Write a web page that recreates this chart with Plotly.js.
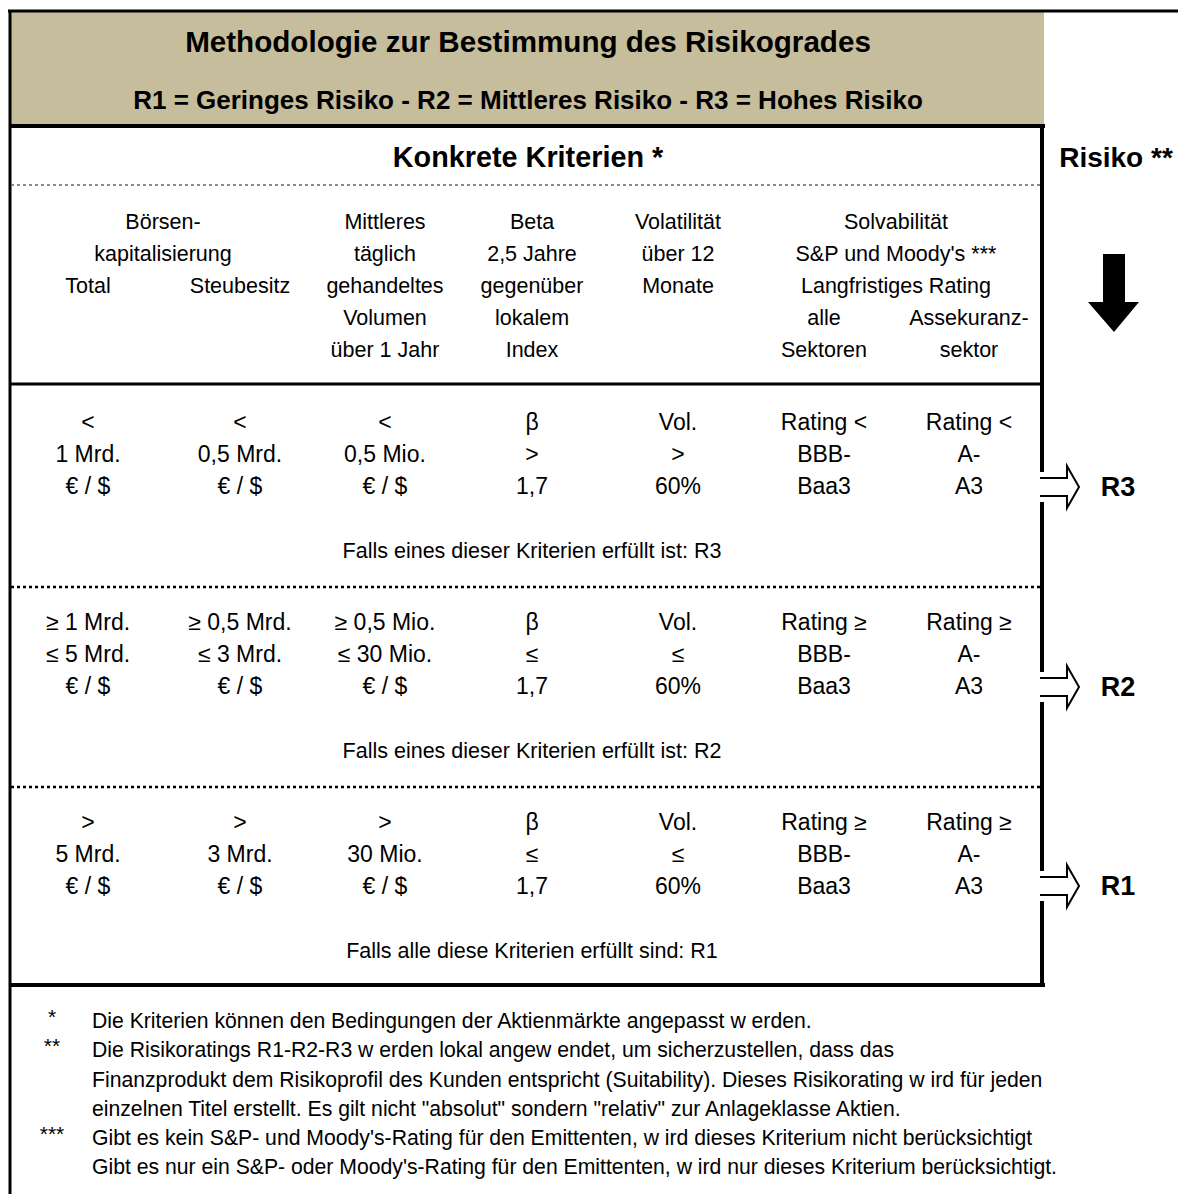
<!DOCTYPE html>
<html>
<head>
<meta charset="utf-8">
<script src="https://cdn.plot.ly/plotly-3.0.1.min.js"></script>
<style>html,body{margin:0;padding:0;background:#fff;}#chart{width:1178px;height:1194px;}</style>
</head>
<body>
<div id="chart"></div>
<script>
// ---------- data ----------
const title = "Methodologie zur Bestimmung des Risikogrades";
const subtitle = "R1 = Geringes Risiko - R2 = Mittleres Risiko - R3 = Hohes Risiko";
const sectionTitle = "Konkrete Kriterien *";
const riskTitle = "Risiko **";

// header: [text, column (or span center key), line index]
const headerCells = [
  ["Börsen-", "cap", 0], ["kapitalisierung", "cap", 1],
  ["Total", 0, 2], ["Steubesitz", 1, 2],
  ["Mittleres", 2, 0], ["täglich", 2, 1], ["gehandeltes", 2, 2], ["Volumen", 2, 3], ["über 1 Jahr", 2, 4],
  ["Beta", 3, 0], ["2,5 Jahre", 3, 1], ["gegenüber", 3, 2], ["lokalem", 3, 3], ["Index", 3, 4],
  ["Volatilität", 4, 0], ["über 12", 4, 1], ["Monate", 4, 2],
  ["Solvabilität", "solv", 0], ["S&P und Moody's ***", "solv", 1], ["Langfristiges Rating", "solv", 2],
  ["alle", 5, 3], ["Sektoren", 5, 4], ["Assekuranz-", 6, 3], ["sektor", 6, 4]
];

const riskLevels = ["R3", "R2", "R1"];
const criteriaR3 = [
  ["<", "1 Mrd.", "€ / $"], ["<", "0,5 Mrd.", "€ / $"], ["<", "0,5 Mio.", "€ / $"],
  ["β", ">", "1,7"], ["Vol.", ">", "60%"], ["Rating <", "BBB-", "Baa3"], ["Rating <", "A-", "A3"]
];
const criteriaR2 = [
  ["≥ 1 Mrd.", "≤ 5 Mrd.", "€ / $"], ["≥ 0,5 Mrd.", "≤ 3 Mrd.", "€ / $"], ["≥ 0,5 Mio.", "≤ 30 Mio.", "€ / $"],
  ["β", "≤", "1,7"], ["Vol.", "≤", "60%"], ["Rating ≥", "BBB-", "Baa3"], ["Rating ≥", "A-", "A3"]
];
const criteriaR1 = [
  [">", "5 Mrd.", "€ / $"], [">", "3 Mrd.", "€ / $"], [">", "30 Mio.", "€ / $"],
  ["β", "≤", "1,7"], ["Vol.", "≤", "60%"], ["Rating ≥", "BBB-", "Baa3"], ["Rating ≥", "A-", "A3"]
];
const conclusions = [
  "Falls eines dieser Kriterien erfüllt ist: R3",
  "Falls eines dieser Kriterien erfüllt ist: R2",
  "Falls alle diese Kriterien erfüllt sind: R1"
];

const footMarks = ["*", "**", "", "", "***", ""];
const footLines = [
  "Die Kriterien können den Bedingungen der Aktienmärkte angepasst w erden.",
  "Die Risikoratings R1-R2-R3 w erden lokal angew endet, um sicherzustellen, dass das",
  "Finanzprodukt dem Risikoprofil des Kunden entspricht (Suitability). Dieses Risikorating w ird für jeden",
  "einzelnen Titel erstellt. Es gilt nicht \"absolut\" sondern \"relativ\" zur Anlageklasse Aktien.",
  "Gibt es kein S&P- und Moody's-Rating für den Emittenten, w ird dieses Kriterium nicht berücksichtigt",
  "Gibt es nur ein S&P- oder Moody's-Rating für den Emittenten, w ird nur dieses Kriterium berücksichtigt."
];

// ---------- layout constants ----------
const FONT = "'Liberation Sans', Arial, sans-serif";
const colX = [88, 240, 385, 532, 678, 824, 969];
const spanX = {cap: 163, solv: 896};
const headerY0 = 223.5, lineStep = 32;
const blockY0 = [424.5, 624.5, 824.5];
const conclY = [552.5, 752.5, 952.5];
const arrowY = [487, 687, 886];
const footY = [1022.5, 1051.5, 1081.5, 1110.5, 1139.5, 1168.5];
const borderX = 1042;

const traces = [];
function textTrace(x, y, text, size, bold, pos) {
  traces.push({
    type: "scatter", mode: "text", x: x, y: y, text: bold ? text.map(t => "<b>" + t + "</b>") : text,
    textposition: pos || "middle center", cliponaxis: false, hoverinfo: "skip", showlegend: false,
    textfont: {family: FONT, size: size, color: "#000"}
  });
}

// titles
textTrace([528], [45], [title], 29.6, true);
textTrace([528], [102], [subtitle], 26, true);
textTrace([528], [159.5], [sectionTitle], 28.8, true);
textTrace([1116], [159.5], [riskTitle], 28, true);

// header
{
  const x = [], y = [], t = [];
  headerCells.forEach(([txt, col, li]) => {
    x.push(typeof col === "string" ? spanX[col] : colX[col]);
    y.push(headerY0 + li * lineStep);
    t.push(txt);
  });
  textTrace(x, y, t, 21.5);
}

// criteria blocks
[criteriaR3, criteriaR2, criteriaR1].forEach((block, b) => {
  const x = [], y = [], t = [];
  block.forEach((lines, c) => lines.forEach((ln, i) => {
    x.push(colX[c]); y.push(blockY0[b] + i * lineStep); t.push(ln);
  }));
  textTrace(x, y, t, 23);
  textTrace([532], [conclY[b]], [conclusions[b]], 21.5);
});

// risk labels
textTrace(riskLevels.map(() => 1118), arrowY.map(v => v + 2), riskLevels, 27, true);

// footnotes
textTrace(footMarks.map((m) => 52), footY.map((v, i) => v - 4), footMarks, 21, false);
textTrace(footLines.map(() => 92), footY, footLines, 21.2, false, "middle right");

// ---------- shapes ----------
const shapes = [];
const line = (x0, y0, x1, y1, w, dash, color) => shapes.push({
  type: "line", xref: "x", yref: "y", x0, y0, x1, y1, layer: "above",
  line: {color: color || "#000", width: w, dash: dash || "solid"}
});
shapes.push({type: "rect", xref: "x", yref: "y", x0: 11, x1: 1044, y0: 12, y1: 126, layer: "below",
  fillcolor: "#C5BD9B", line: {width: 0}});
line(8, 11, 1178, 11, 3);
line(10, 10, 10, 1194, 3);
line(10, 126, 1045, 126, 4);
line(borderX, 126, borderX, 987, 4);
line(11, 185, 1040, 185, 1.5, "dot", "#666");
line(10, 384, 1041, 384, 3);
line(11, 587, 1040, 587, 2.5, "dot");
line(11, 787, 1040, 787, 2.5, "dot");
line(10, 985, 1045, 985, 4);

// hollow right arrows
arrowY.forEach(c => {
  shapes.push({type: "rect", xref: "x", yref: "y", x0: 1038, x1: 1046, y0: c - 15, y1: c + 15,
    layer: "above", fillcolor: "#fff", line: {width: 0}});
  shapes.push({type: "path", xref: "x", yref: "y", layer: "above", fillcolor: "#fff",
    line: {color: "#000", width: 2},
    path: `M 1040 ${c - 9} L 1067 ${c - 9} L 1067 ${c - 21} L 1079 ${c} L 1067 ${c + 21} L 1067 ${c + 9} L 1040 ${c + 9}`});
});

// down arrow
shapes.push({type: "path", xref: "x", yref: "y", layer: "above", fillcolor: "#000", line: {width: 0},
  path: "M 1103 254 L 1125 254 L 1125 302 L 1139 302 L 1114 332 L 1088 302 L 1103 302 Z"});

const layout = {
  width: 1178, height: 1194,
  margin: {l: 0, r: 0, t: 0, b: 0, pad: 0},
  paper_bgcolor: "#fff", plot_bgcolor: "#fff",
  xaxis: {range: [0, 1178], visible: false, fixedrange: true},
  yaxis: {range: [1194, 0], visible: false, fixedrange: true},
  shapes: shapes, showlegend: false, hovermode: false
};

Plotly.newPlot("chart", traces, layout, {staticPlot: true, displayModeBar: false});
</script>
</body>
</html>
